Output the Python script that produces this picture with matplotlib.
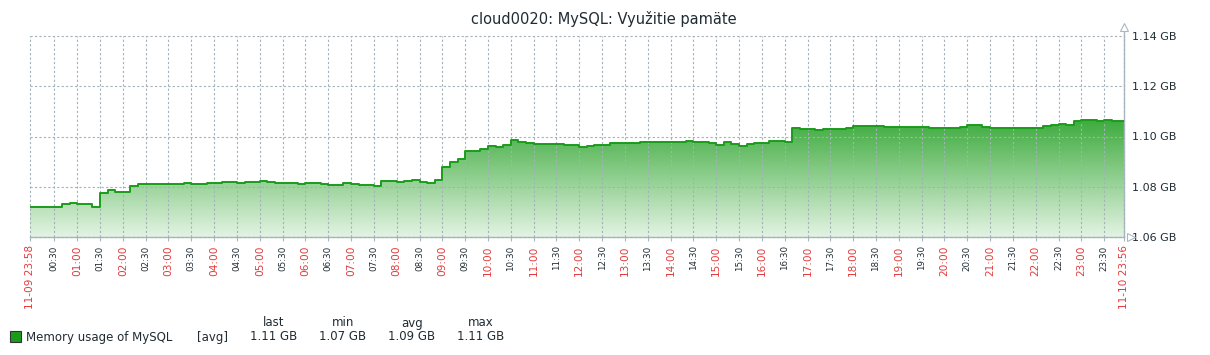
import numpy as np
import matplotlib
matplotlib.use("Agg")
import matplotlib.pyplot as plt
from matplotlib.patches import Rectangle
from matplotlib.colors import to_rgb

# === Dati: memoria MySQL (GB), un valore ogni 10 minuti dalle 00:00 ===
mem_gb = [
    1.0721, 1.0718, 1.0719, 1.0721, 1.0731, 1.0735,  # 00
    1.0730, 1.0731, 1.0720, 1.0774, 1.0788, 1.0778,  # 01
    1.0780, 1.0804, 1.0811, 1.0811, 1.0811, 1.0812,  # 02
    1.0812, 1.0811, 1.0813, 1.0812, 1.0810, 1.0813,  # 03
    1.0815, 1.0818, 1.0817, 1.0815, 1.0818, 1.0818,  # 04
    1.0822, 1.0818, 1.0816, 1.0816, 1.0816, 1.0811,  # 05
    1.0814, 1.0813, 1.0811, 1.0808, 1.0808, 1.0813,  # 06
    1.0809, 1.0806, 1.0808, 1.0804, 1.0823, 1.0822,  # 07
    1.0820, 1.0822, 1.0827, 1.0820, 1.0815, 1.0825,  # 08
    1.0880, 1.0897, 1.0910, 1.0943, 1.0943, 1.0950,  # 09
    1.0962, 1.0960, 1.0965, 1.0986, 1.0978, 1.0973,  # 10
    1.0970, 1.0969, 1.0970, 1.0969, 1.0968, 1.0967,  # 11
    1.0960, 1.0963, 1.0965, 1.0966, 1.0973, 1.0973,  # 12
    1.0974, 1.0975, 1.0977, 1.0977, 1.0978, 1.0977,  # 13
    1.0979, 1.0979, 1.0983, 1.0980, 1.0977, 1.0975,  # 14
    1.0968, 1.0979, 1.0972, 1.0964, 1.0969, 1.0976,  # 15
    1.0974, 1.0983, 1.0981, 1.0977, 1.1034, 1.1030,  # 16
    1.1029, 1.1024, 1.1030, 1.1031, 1.1031, 1.1033,  # 17
    1.1040, 1.1042, 1.1042, 1.1041, 1.1039, 1.1039,  # 18
    1.1038, 1.1039, 1.1038, 1.1037, 1.1035, 1.1034,  # 19
    1.1033, 1.1034, 1.1038, 1.1044, 1.1045, 1.1039,  # 20
    1.1035, 1.1033, 1.1034, 1.1033, 1.1032, 1.1033,  # 21
    1.1033, 1.1042, 1.1045, 1.1050, 1.1044, 1.1062,  # 22
    1.1066, 1.1064, 1.1063, 1.1064, 1.1060, 1.1060,  # 23
]
start_label = "11-09 23:58"
end_label = "11-10 23:56"
span_min = 1438          # minuti tra 23:58 e 23:56
offset_min = 2           # 00:00 e' 2 minuti dopo l'inizio
y_ticks = [1.06, 1.08, 1.10, 1.12, 1.14]
title = "cloud0020: MySQL: Využitie pamäte"
series_name = "Memory usage of MySQL"

GREEN = "#1a9c1a"
RED = "#e33b3b"
DARK = "#1f2c33"
GRID = "#a3b1b9"

# === Serie a gradini ===
vals = np.array(mem_gb)
t = np.concatenate([[0], np.arange(len(vals)) * 10 + offset_min, [span_min]])
v = np.concatenate([[vals[0]], vals, [vals[-1]]])

fig = plt.figure(figsize=(12.1, 3.55), dpi=100)
ax = fig.add_axes([30 / 1210, 118 / 355, 1094 / 1210, 201 / 355])
ax.set_xlim(0, span_min)
ax.set_ylim(1.06, 1.14)

# Riempimento con gradiente verticale
poly = ax.fill_between(t, v, 1.06, step="post", color="none", lw=0)
yy = np.linspace(1.06, 1.14, 300)
a = np.clip(0.12 + (yy - 1.06) / 0.047 * 0.73, 0, 1)
g = np.array(to_rgb(GREEN))
img = (1 - a)[:, None] * np.ones(3) + a[:, None] * g
img = img[:, None, :]
im = ax.imshow(img, extent=[0, span_min, 1.06, 1.14], origin="lower",
               aspect="auto", zorder=1, interpolation="bilinear")
im.set_clip_path(poly.get_paths()[0], transform=ax.transData)
ax.step(t, v, where="post", color=GREEN, lw=1.4, zorder=3)

# === Assi e griglia ===
half_hours = np.arange(30, 24 * 60, 30) + offset_min
xticks = np.concatenate([[0], half_hours, [span_min]])
labels = [start_label]
for m in half_hours - offset_min:
    labels.append(f"{m // 60:02d}:{m % 60:02d}")
labels.append(end_label)
ax.set_xticks(xticks)
ax.set_xticklabels(labels, rotation=90, va="top", ha="center")
for lab, txt in zip(ax.get_xticklabels(), labels):
    if txt.endswith(":30"):
        lab.set_color(DARK)
        lab.set_fontsize(6.3)
    else:
        lab.set_color(RED)
        lab.set_fontsize(7.6)

ax.set_yticks(y_ticks)
ax.set_yticklabels([f"{y:.2f} GB" for y in y_ticks], fontsize=8, color=DARK)
ax.yaxis.tick_right()
ax.tick_params(axis="y", length=0, pad=6)
ax.tick_params(axis="x", length=3, width=0.8, color="#aab8c0", pad=3)

ax.grid(True, color=GRID, linestyle=(0, (2, 2)), lw=0.8)
ax.set_axisbelow(False)
for gl in ax.get_xgridlines() + ax.get_ygridlines():
    gl.set_clip_on(False)

for s in ["top", "left"]:
    ax.spines[s].set_visible(False)
for s in ["bottom", "right"]:
    ax.spines[s].set_color("#aab8c0")
    ax.spines[s].set_linewidth(1.0)
ax.spines["right"].set_bounds(1.06, 1.143)

# frecce sugli assi
ax.plot([span_min], [1.1435], marker="^", ms=6, mfc="white", mec="#aab8c0",
        mew=0.8, clip_on=False, zorder=5)
ax.plot([span_min + 9], [1.06], marker=">", ms=6, mfc="white", mec="#aab8c0",
        mew=0.8, clip_on=False, zorder=5)

fig.text(604 / 1210, 1 - 19 / 355, title, ha="center", va="center",
         fontsize=10.5, color=DARK)

# === Legenda ===
fig.patches.append(Rectangle((10 / 1210, 1 - 342 / 355), 11 / 1210, 11 / 355,
                             transform=fig.transFigure, facecolor=GREEN,
                             edgecolor="#333333", lw=0.8))
ly = 1 - 337 / 355
hy = 1 - 323 / 355
fig.text(26 / 1210, ly, series_name, ha="left", va="center", fontsize=8.5, color=DARK)
fig.text(197 / 1210, ly, "[avg]", ha="left", va="center", fontsize=8.5, color=DARK)
stats = [("last", vals[-1]), ("min", vals.min()), ("avg", vals.mean()), ("max", vals.max())]
for xc, (name, val) in zip([274, 343, 412, 481], stats):
    fig.text(xc / 1210, hy, name, ha="center", va="center", fontsize=8.5, color=DARK)
    fig.text(xc / 1210, ly, f"{val:.2f} GB", ha="center", va="center", fontsize=8.5, color=DARK)

fig.savefig("out.png", dpi=100)
